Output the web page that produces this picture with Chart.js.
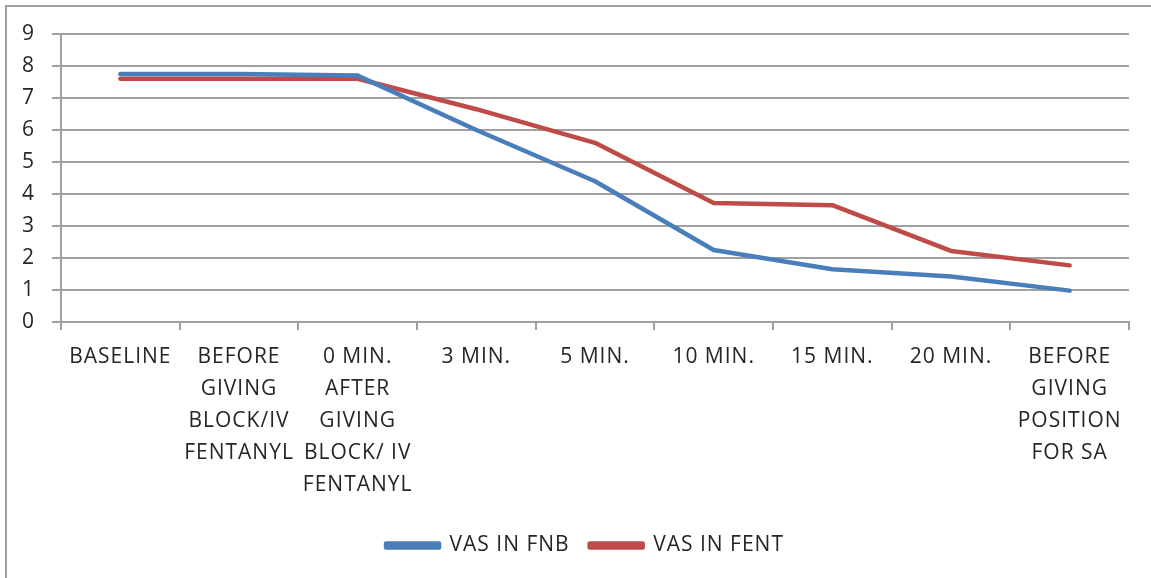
<!DOCTYPE html>
<html>
<head>
<meta charset="utf-8">
<script src="https://cdn.jsdelivr.net/npm/chart.js@4.4.1/dist/chart.umd.min.js"></script>
<style>
  body { margin: 0; background: #fff; }
  #wrap { position: relative; width: 1151px; height: 578px; }
  #frame {
    position: absolute; left: 5px; top: 5px; right: 0; bottom: 0;
    border-left: 2px solid #a0a0a0; border-top: 2px solid #a0a0a0;
    pointer-events: none;
  }
</style>
</head>
<body>
<div id="wrap">
  <canvas id="vasChart" width="1151" height="578"></canvas>
  <div id="frame"></div>
</div>
<script>
// Chart data
const categories = [
  "BASELINE",
  ["BEFORE", "GIVING", "BLOCK/IV", "FENTANYL"],
  ["0 MIN.", "AFTER", "GIVING", "BLOCK/ IV", "FENTANYL"],
  "3 MIN.",
  "5 MIN.",
  "10 MIN.",
  "15 MIN.",
  "20 MIN.",
  ["BEFORE", "GIVING", "POSITION", "FOR SA"]
];
const vasFnb = [7.75, 7.75, 7.7, 6.0, 4.4, 2.25, 1.65, 1.42, 0.98];
const vasFent = [7.6, 7.6, 7.6, 6.65, 5.6, 3.72, 3.65, 2.22, 1.77];
const seriesNames = ["VAS IN FNB", "VAS IN FENT"];

const blue = "#4a7ebb";
const red = "#be4b48";
const gridColor = "#a0a0a0";
const textColor = "#262626";
const font = { family: "'Open Sans', sans-serif", size: 21 };

// slightly wider text, closer to the original rendering
const spacingPlugin = {
  id: "spacing",
  beforeUpdate(chart) { chart.ctx.letterSpacing = "1px"; },
  beforeDraw(chart) { chart.ctx.letterSpacing = "1px"; },
  // legend sits a bit right of centre in the original
  afterLayout(chart) {
    chart.legend.left += 18;
    chart.legend.right += 18;
  }
};

const ctx = document.getElementById("vasChart").getContext("2d");

new Chart(ctx, {
  type: "line",
  data: {
    labels: categories,
    datasets: [
      {
        label: seriesNames[0],
        data: vasFnb,
        borderColor: blue,
        backgroundColor: blue,
        borderWidth: 4.5,
        pointRadius: 0,
        tension: 0,
        borderJoinStyle: "round",
        borderCapStyle: "round"
      },
      {
        label: seriesNames[1],
        data: vasFent,
        borderColor: red,
        backgroundColor: red,
        borderWidth: 4.5,
        pointRadius: 0,
        tension: 0,
        borderJoinStyle: "round",
        borderCapStyle: "round"
      }
    ]
  },
  plugins: [spacingPlugin],
  options: {
    responsive: false,
    animation: false,
    layout: { padding: { left: 5, right: 22, top: 34, bottom: 12 } },
    plugins: {
      tooltip: { enabled: false },
      legend: {
        position: "bottom",
        labels: {
          color: textColor,
          font: font,
          boxWidth: 53,
          boxHeight: 4,
          padding: 20
        }
      }
    },
    scales: {
      x: {
        offset: true,
        afterFit(scale) { scale.height = 193; },
        grid: {
          offset: true,
          drawOnChartArea: false,
          drawTicks: true,
          tickLength: 8,
          color: gridColor,
          lineWidth: 2
        },
        border: { color: gridColor, width: 2 },
        ticks: {
          color: textColor,
          font: { family: font.family, size: 21, lineHeight: 32 / 21 },
          maxRotation: 0,
          minRotation: 0,
          autoSkip: false,
          padding: 11
        }
      },
      y: {
        min: 0,
        max: 9,
        grid: {
          color: gridColor,
          lineWidth: 2,
          tickLength: 9
        },
        border: { color: gridColor, width: 2 },
        ticks: {
          stepSize: 1,
          color: textColor,
          font: font,
          padding: 17
        }
      }
    }
  }
});
</script>
</body>
</html>
